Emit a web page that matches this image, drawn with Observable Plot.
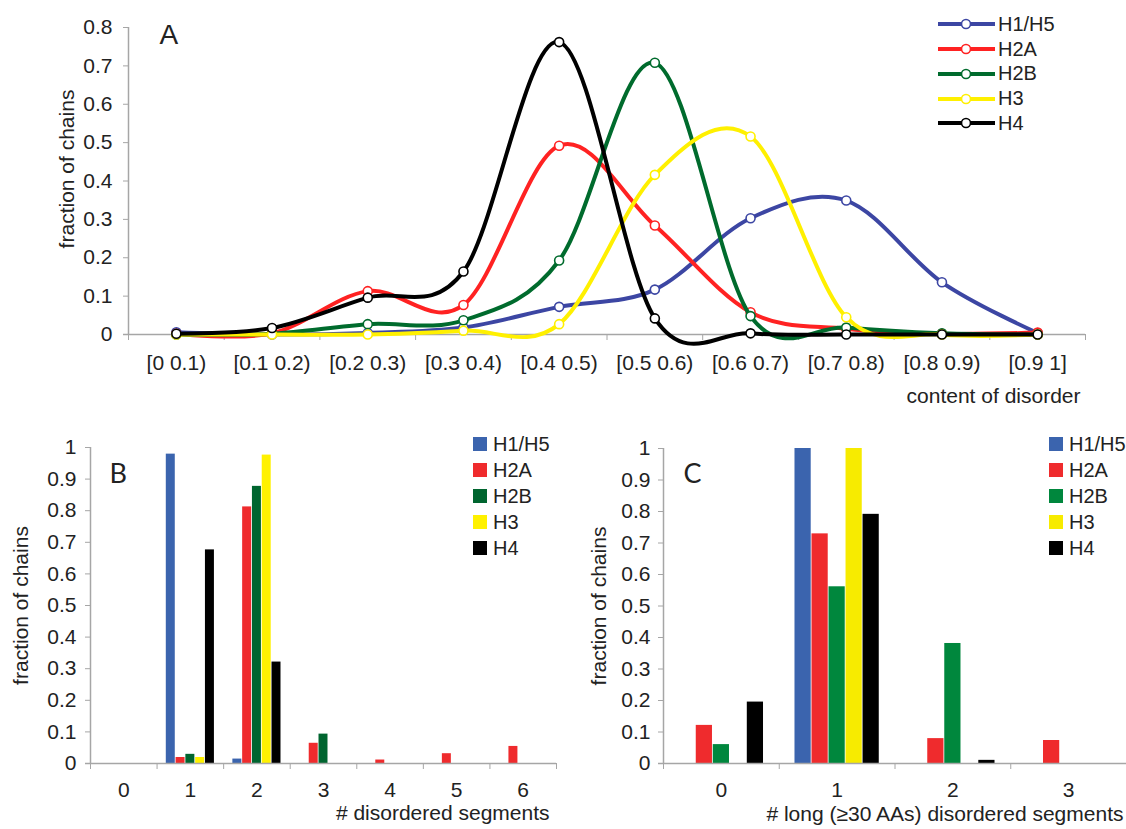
<!DOCTYPE html>
<html>
<head>
<meta charset="utf-8">
<script src="https://cdn.jsdelivr.net/npm/d3@7"></script>
<script src="https://cdn.jsdelivr.net/npm/@observablehq/plot@0.6"></script>
<style>
  html, body { margin: 0; padding: 0; background: #fff; }
  #wrap { position: relative; width: 1126px; height: 829px; overflow: hidden; font-family: "Liberation Sans", Arial, sans-serif; color: #222; }
  .panel { position: absolute; }
  .legend { position: absolute; font-size: 20px; color: #222; }
  .legend .row { display: flex; align-items: center; white-space: nowrap; }
  .legend .sq { width: 14px; height: 14px; margin-right: 6px; }
</style>
</head>
<body>
<div id="wrap"></div>
<script>
// ---------- data ----------
const seriesNames = ["H1/H5", "H2A", "H2B", "H3", "H4"];

// Panel A: content of disorder
const catsA = ["[0 0.1)", "[0.1 0.2)", "[0.2 0.3)", "[0.3 0.4)", "[0.4 0.5)", "[0.5 0.6)", "[0.6 0.7)", "[0.7 0.8)", "[0.8 0.9)", "[0.9 1]"];
const h1A  = [0.006, 0.000, 0.004, 0.018, 0.072, 0.117, 0.303, 0.349, 0.136, 0.004];
const h2aA = [0.002, 0.003, 0.113, 0.077, 0.492, 0.284, 0.058, 0.015, 0.002, 0.005];
const h2bA = [0.000, 0.002, 0.027, 0.037, 0.193, 0.708, 0.048, 0.018, 0.003, 0.000];
const h3A  = [0.000, 0.000, 0.000, 0.010, 0.027, 0.416, 0.516, 0.045, 0.000, 0.000];
const h4A  = [0.002, 0.017, 0.096, 0.164, 0.762, 0.042, 0.003, 0.000, 0.000, 0.000];
const yTicksA = [0, 0.1, 0.2, 0.3, 0.4, 0.5, 0.6, 0.7, 0.8];

// Panel B: # disordered segments
const catsB = ["0", "1", "2", "3", "4", "5", "6"];
const h1B  = [0, 0.979, 0.014, 0, 0, 0, 0];
const h2aB = [0, 0.019, 0.812, 0.064, 0.011, 0.031, 0.054];
const h2bB = [0, 0.029, 0.877, 0.093, 0, 0, 0];
const h3B  = [0, 0.019, 0.976, 0, 0, 0, 0];
const h4B  = [0, 0.676, 0.321, 0, 0, 0, 0];

// Panel C: # long (>=30 AAs) disordered segments
const catsC = ["0", "1", "2", "3"];
const h1C  = [0, 1.000, 0, 0];
const h2aC = [0.121, 0.729, 0.079, 0.073];
const h2bC = [0.060, 0.561, 0.381, 0];
const h3C  = [0, 1.000, 0, 0];
const h4C  = [0.195, 0.791, 0.010, 0];
const yTicksBC = [0, 0.1, 0.2, 0.3, 0.4, 0.5, 0.6, 0.7, 0.8, 0.9, 1];

// ---------- styles ----------
const colorsA = ["#3c46a3", "#ff2222", "#006b2d", "#fff000", "#000000"];
const colorsB = ["#3b64ae", "#ef2b2d", "#00652f", "#fff100", "#000000"];
const colorsC = ["#3b64ae", "#ef2b2d", "#00873d", "#f7eb00", "#000000"];
const grey = "#a6a6a6";
const FONT = "'Liberation Sans', Arial, sans-serif";
const FS = 21;
const fmt = d => (d === 0 ? "0" : d === 1 ? "1" : d.toFixed(1));

function tidy(cats, arrays) {
  return cats.flatMap((c, ci) => arrays.map((arr, si) => ({ci, si, cat: c, series: seriesNames[si], v: arr[ci]})));
}

const wrap = document.getElementById("wrap");
function place(node, left, top) {
  const d = document.createElement("div");
  d.className = "panel";
  d.style.left = left + "px";
  d.style.top = top + "px";
  d.appendChild(node);
  wrap.appendChild(d);
}

// ---------- Panel A ----------
const rowsA = tidy(catsA, [h1A, h2aA, h2bA, h3A, h4A]);
const lineMarks = seriesNames.flatMap((s, si) => {
  const data = rowsA.filter(d => d.si === si);
  return [
    Plot.line(data, {x: "ci", y: "v", stroke: colorsA[si], strokeWidth: 4, curve: "cardinal", tension: 0}),
    Plot.dot(data, {x: "ci", y: "v", r: 4.5, fill: "white", stroke: colorsA[si], strokeWidth: 1.6})
  ];
});
const chartA = Plot.plot({
  width: 1126, height: 420,
  marginLeft: 128, marginRight: 41, marginTop: 27, marginBottom: 86,
  style: {fontFamily: FONT, fontSize: FS + "px", color: "#222", background: "transparent", overflow: "visible"},
  x: {domain: [-0.5, catsA.length - 0.5]},
  y: {domain: [0, 0.8]},
  marks: [
    Plot.ruleX([-0.5], {stroke: grey, strokeWidth: 1.5}),
    Plot.axisY({ticks: yTicksA, tickSize: 5, tickPadding: 11, tickFormat: fmt, stroke: grey, fill: "#222", label: null, fontSize: FS}),
    Plot.axisX({ticks: d3.range(catsA.length), tickSize: 0, tickPadding: 21, tickFormat: i => catsA[i], fill: "#222", label: null, fontSize: FS}),
    Plot.axisX({ticks: d3.range(catsA.length + 1).map(i => i - 0.5), tickSize: 6, tickFormat: () => "", stroke: grey, label: null}),
    Plot.ruleY([0], {stroke: grey, strokeWidth: 1.5, insetLeft: -5}),
    ...lineMarks,
    Plot.text(["fraction of chains"], {text: d => d, frameAnchor: "left", textAnchor: "middle", rotate: -90, dx: -61, dy: -12, fontSize: FS, fill: "#222"}),
    Plot.text(["content of disorder"], {text: d => d, frameAnchor: "bottom-right", textAnchor: "end", dx: -5, dy: 68, fontSize: FS, fill: "#222"}),
    Plot.text(["A"], {text: d => d, frameAnchor: "top-left", textAnchor: "start", lineAnchor: "top", dx: 31, dy: -3, fontSize: 28, fill: "#222"})
  ]
});
place(chartA, 0, 0);

// ---------- bar panels ----------
function barPanel({cats, arrays, colors, width, height, marginLeft, marginRight, marginTop, marginBottom, xTitle, letter, letterDx, letterDy, yTitleDx, xTitleDx, xTitleDy, yTickPadding}) {
  const bw = 0.147;
  const rows = tidy(cats, arrays).filter(d => d.v > 0);
  return Plot.plot({
    width, height, marginLeft, marginRight, marginTop, marginBottom,
    style: {fontFamily: FONT, fontSize: FS + "px", color: "#222", background: "transparent", overflow: "visible"},
    x: {domain: [-0.5, cats.length - 0.5]},
    y: {domain: [0, 1]},
    marks: [
      Plot.ruleX([-0.5], {stroke: grey, strokeWidth: 1.5}),
      Plot.axisY({ticks: yTicksBC, tickSize: 5, tickPadding: yTickPadding, tickFormat: fmt, stroke: grey, fill: "#222", label: null, fontSize: FS}),
      Plot.axisX({ticks: d3.range(cats.length), tickSize: 0, tickPadding: 19, tickFormat: i => cats[i], fill: "#222", label: null, fontSize: FS}),
      Plot.axisX({ticks: d3.range(cats.length + 1).map(i => i - 0.5), tickSize: 6, tickFormat: () => "", stroke: grey, label: null}),
      Plot.rect(rows, {
        x1: d => d.ci + (d.si - 2.5) * bw,
        x2: d => d.ci + (d.si - 1.5) * bw,
        y1: d => 0, y2: "v",
        fill: d => colors[d.si],
        insetLeft: 0.4, insetRight: 0.4
      }),
      Plot.ruleY([0], {stroke: grey, strokeWidth: 1.5, insetLeft: -5}),
      Plot.text(["fraction of chains"], {text: d => d, frameAnchor: "left", textAnchor: "middle", rotate: -90, dx: yTitleDx, fontSize: FS, fill: "#222"}),
      Plot.text([xTitle], {text: d => d, frameAnchor: "bottom-right", textAnchor: "end", dx: xTitleDx, dy: xTitleDy, fontSize: FS, fill: "#222"}),
      Plot.text([letter], {text: d => d, frameAnchor: "top-left", textAnchor: "start", lineAnchor: "top", dx: letterDx, dy: letterDy, fontSize: 27, fontFamily: "Lato, 'Open Sans', sans-serif", fill: "#222"})
    ]
  });
}

const chartB = barPanel({
  cats: catsB, arrays: [h1B, h2aB, h2bB, h3B, h4B], colors: colorsB,
  width: 563, height: 409, marginLeft: 90, marginRight: 7, marginTop: 27, marginBottom: 66,
  xTitle: "# disordered segments", letter: "B", letterDx: 19, letterDy: 16,
  yTitleDx: -69, xTitleDx: -7, xTitleDy: 56, yTickPadding: 9
});
place(chartB, 0, 420);

const chartC = barPanel({
  cats: catsC, arrays: [h1C, h2aC, h2bC, h3C, h4C], colors: colorsC,
  width: 563, height: 409, marginLeft: 100, marginRight: 0, marginTop: 28, marginBottom: 66,
  xTitle: "# long (\u226530 AAs) disordered segments", letter: "C", letterDx: 20, letterDy: 15,
  yTitleDx: -64, xTitleDx: -3, xTitleDy: 57, yTickPadding: 8
});
place(chartC, 563, 420);

// ---------- legends ----------
function lineLegend(left, top, rowH) {
  const div = document.createElement("div");
  div.className = "legend";
  div.style.left = left + "px"; div.style.top = top + "px";
  seriesNames.forEach((s, si) => {
    const row = document.createElement("div");
    row.className = "row"; row.style.height = rowH + "px";
    row.innerHTML = `<svg width="57" height="12" style="margin-right:3px"><line x1="0" y1="6" x2="57" y2="6" stroke="${colorsA[si]}" stroke-width="4"/><circle cx="28" cy="6" r="4.5" fill="white" stroke="${colorsA[si]}" stroke-width="1.6"/></svg><span>${s}</span>`;
    div.appendChild(row);
  });
  wrap.appendChild(div);
}
function boxLegend(left, top, rowH, colors) {
  const div = document.createElement("div");
  div.className = "legend";
  div.style.left = left + "px"; div.style.top = top + "px";
  seriesNames.forEach((s, si) => {
    const row = document.createElement("div");
    row.className = "row"; row.style.height = rowH + "px";
    row.innerHTML = `<div class="sq" style="background:${colors[si]}"></div><span>${s}</span>`;
    div.appendChild(row);
  });
  wrap.appendChild(div);
}
lineLegend(938, 12, 24.75);
boxLegend(473, 431, 26, colorsB);
boxLegend(1049, 431, 26, colorsC);
</script>
</body>
</html>
